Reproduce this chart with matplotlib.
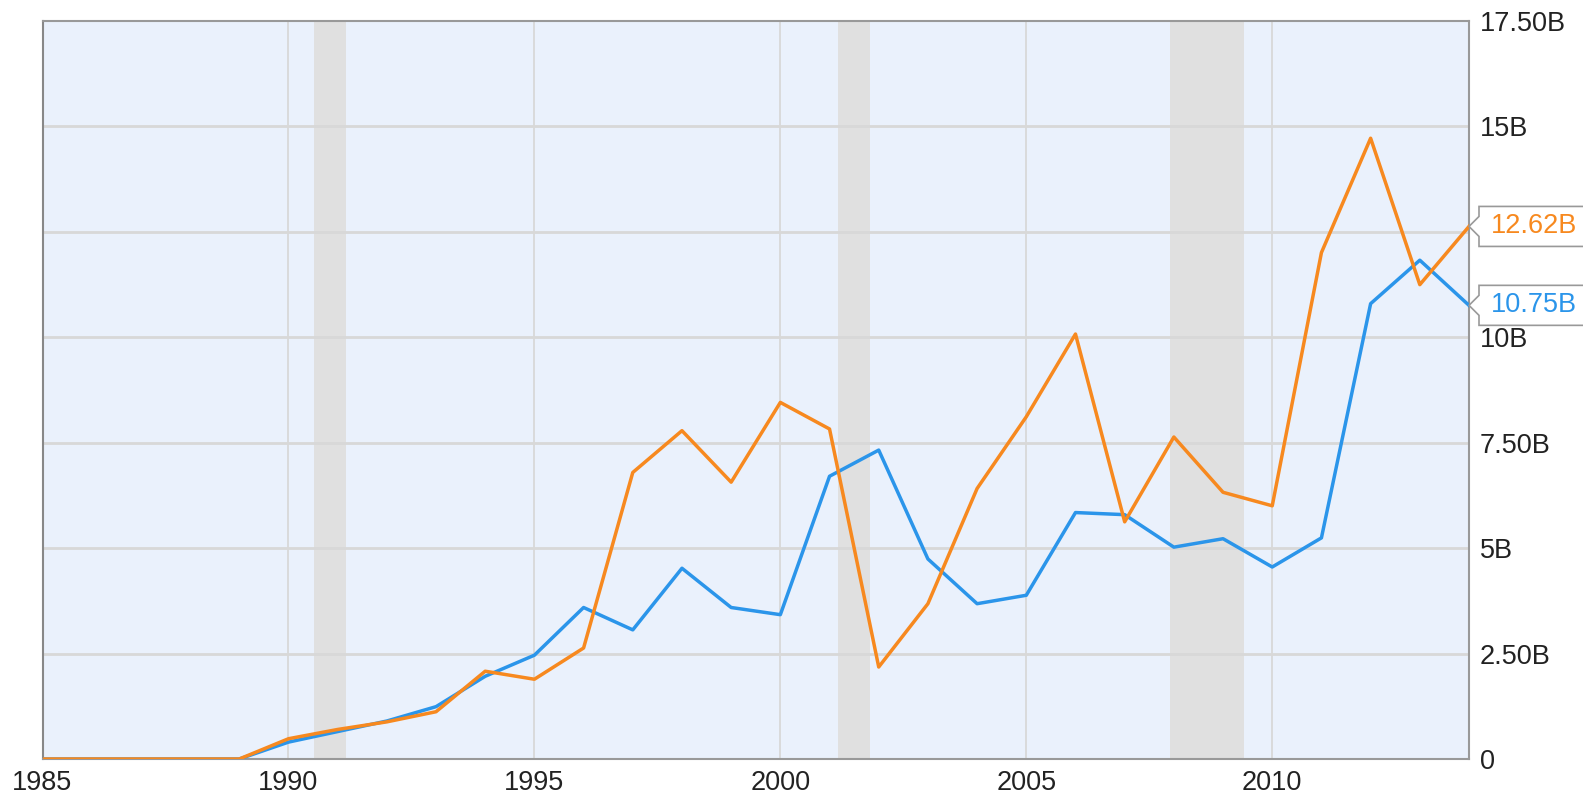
import numpy as np
import matplotlib.pyplot as plt
import matplotlib.transforms as mtransforms
from matplotlib.patches import Polygon

plt.rcParams['font.family'] = ['Liberation Sans', 'DejaVu Sans']

# ── Data (billions) ──────────────────────────────────────────────────────────
years = list(range(1985, 2015))
orange_vals = [0, 0, 0, 0, 0, 0.48, 0.70, 0.88, 1.12, 2.08, 1.89, 2.63, 6.79, 7.78,
               6.56, 8.45, 7.82, 2.18, 3.68, 6.41, 8.11, 10.07, 5.62, 7.63, 6.32,
               6.00, 12.00, 14.71, 11.24, 12.62]
blue_vals = [0, 0, 0, 0, 0, 0.40, 0.65, 0.90, 1.24, 1.96, 2.46, 3.59, 3.06, 4.52,
             3.59, 3.42, 6.70, 7.32, 4.74, 3.68, 3.88, 5.84, 5.79, 5.02, 5.22,
             4.55, 5.24, 10.79, 11.82, 10.75]
recessions = [(1990.52, 1991.17), (2001.17, 2001.83), (2007.93, 2009.42)]
ytick_vals = [0, 2.5, 5, 7.5, 10, 12.5, 15, 17.5]
ytick_labels = ['0', '2.50B', '5B', '7.50B', '10B', '', '15B', '17.50B']
xtick_vals = [1985, 1990, 1995, 2000, 2005, 2010]

ORANGE = '#f7891f'
BLUE = '#2b95ea'
FS = 19.5

W, H = 1583, 800
fig = plt.figure(figsize=(W / 100, H / 100), dpi=100)
ax = fig.add_axes([42.5 / W, (H - 759) / H, 1426.5 / W, 738.5 / H])
ax.set_facecolor('#eaf1fc')

for a, b in recessions:
    ax.axvspan(a, b, color='#e0e0e0', zorder=0.5, lw=0)

for v in ytick_vals[1:-1]:
    ax.axhline(v, color='#d8d8d8', lw=2, zorder=0.6)
for x in xtick_vals[1:]:
    ax.axvline(x, color='#d8d8d8', lw=1.3, zorder=0.6)

ax.plot(years, blue_vals, color=BLUE, lw=2.5, zorder=3, solid_joinstyle='round')
ax.plot(years, orange_vals, color=ORANGE, lw=2.5, zorder=4, solid_joinstyle='round')

ax.set_xlim(1985, 2014)
ax.set_ylim(0, 17.5)
ax.set_xticks(xtick_vals)
ax.set_xticklabels([str(x) for x in xtick_vals], fontsize=FS, color='#222222')
ax.set_yticks(ytick_vals)
ax.set_yticklabels(ytick_labels, fontsize=FS, color='#222222')
ax.yaxis.tick_right()
ax.tick_params(axis='both', length=0)
ax.tick_params(axis='y', pad=8)
ax.tick_params(axis='x', pad=8)
for s in ax.spines.values():
    s.set_color('#999999')
    s.set_linewidth(1.5)
ax.spines['left'].set_color('#888888')

# value callouts at right edge
fig.canvas.draw()
for val, col in [(orange_vals[-1], ORANGE), (blue_vals[-1], BLUE)]:
    px, py = ax.transData.transform((2014, val))
    trans = mtransforms.Affine2D().translate(px, py)
    pts = [(0, 0), (10, 10), (10, 20), (130, 20), (130, -20), (10, -20), (10, -10)]
    poly = Polygon(pts, closed=True, transform=trans, facecolor='white',
                   edgecolor='#999999', lw=1.2, zorder=10, clip_on=False)
    fig.add_artist(poly)
    fig.text(22, 0, f'{val:.2f}B', transform=trans,
             fontsize=FS, color=col, va='center', ha='left', zorder=11)

fig.savefig('out.png', dpi=100, facecolor='white')
